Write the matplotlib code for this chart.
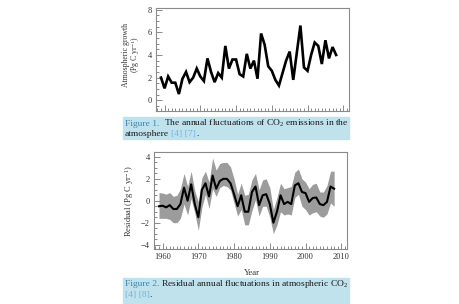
import matplotlib
matplotlib.use("Agg")
import matplotlib.pyplot as plt
from matplotlib.ticker import MultipleLocator, NullFormatter
from matplotlib.patches import Rectangle

plt.rcParams['font.family'] = ['Liberation Serif', 'DejaVu Serif']
plt.rcParams['mathtext.fontset'] = 'custom'
plt.rcParams['mathtext.rm'] = 'Liberation Serif'
plt.rcParams['mathtext.it'] = 'Liberation Serif:italic'

years = list(range(1959, 2009))

# Figure 1: atmospheric growth (Pg C / yr)
growth = [2.0, 1.05, 2.1, 1.55, 1.55, 0.55, 1.9, 2.5, 1.6, 2.0,
          2.8, 2.1, 1.7, 3.7, 2.5, 1.6, 2.4, 2.0, 4.8, 2.8,
          3.6, 3.6, 2.3, 2.1, 4.1, 2.8, 3.5, 1.9, 5.9, 4.9,
          3.0, 2.6, 1.8, 1.3, 2.4, 3.5, 4.3, 1.8, 4.2, 6.6,
          2.9, 2.6, 4.0, 5.1, 4.8, 3.2, 5.3, 3.7, 4.7, 4.0]

# Figure 2: residual with uncertainty band
residual = [-0.5, -0.45, -0.6, -0.4, -0.75, -0.75, -0.3, 1.2, 0.0, 1.5,
            -0.3, -1.5, 1.0, 1.6, 0.4, 2.3, 1.1, 1.8, 2.0, 2.0,
            1.6, 0.6, -0.5, 0.5, -1.0, -1.0, 0.8, 1.3, -0.4, 0.5,
            0.6, -0.3, -2.0, -1.0, 0.5, -0.3, -0.1, -0.3, 1.4, 1.6,
            0.8, 0.7, -0.1, 0.25, 0.3, -0.3, -0.4, -0.1, 1.3, 1.1]
res_upper = [0.75, 0.7, 0.6, 0.75, 0.4, 0.5, 1.1, 2.5, 1.3, 2.7,
             0.9, -0.1, 2.1, 2.7, 1.7, 3.9, 2.8, 3.4, 3.5, 3.5,
             3.1, 2.0, 0.6, 1.6, 0.5, 0.6, 1.9, 2.5, 1.0, 1.9,
             2.0, 1.2, -0.8, 0.3, 1.6, 1.1, 1.2, 1.3, 2.6, 2.9,
             2.0, 1.7, 1.1, 1.5, 1.6, 0.8, 0.8, 1.4, 2.7, 2.7]
res_lower = [-1.6, -1.6, -1.6, -1.7, -2.0, -2.0, -1.6, -0.3, -1.3, 0.2,
             -1.1, -2.7, -0.6, 0.6, -0.7, 1.1, 0.4, 1.2, 1.4, 1.3,
             1.0, -0.2, -1.4, -0.8, -2.2, -2.2, -0.9, 0.1, -1.4, -0.5,
             -0.5, -1.5, -3.0, -2.2, -1.0, -1.3, -1.2, -1.3, 0.3, 0.6,
             -0.5, -0.8, -1.3, -1.1, -1.0, -1.4, -1.5, -1.2, -0.2, -0.5]

cap1 = ['Figure 1.', 'The annual fluctuations of CO$_2$ emissions in the', 'atmosphere', '[4] [7]', '.']
cap2 = ['Figure 2.', 'Residual annual fluctuations in atmospheric CO$_2$', '[4] [8]', '.']

W, H = 459, 304
fig = plt.figure(figsize=(W / 100, H / 100), dpi=100)
fig.patch.set_facecolor('white')
renderer = fig.canvas.get_renderer()


def fx(px):
    return px / W


def fy(py):
    return 1 - py / H


def width_px(txt):
    return txt.get_window_extent(renderer=renderer).width


def style_axes(ax):
    for s in ax.spines.values():
        s.set_color('#8a8a8a')
        s.set_linewidth(0.8)
    ax.set_xlim(1957.6, 2011.6)
    ax.xaxis.set_major_locator(MultipleLocator(10))
    ax.xaxis.set_minor_locator(MultipleLocator(1))
    ax.yaxis.set_major_locator(MultipleLocator(2))
    ax.yaxis.set_minor_locator(MultipleLocator(0.5))
    ax.tick_params(which='both', direction='in', top=False, right=False,
                   color='#777777', width=0.6, labelsize=6, labelcolor='#333333', pad=3)
    ax.tick_params(which='major', length=4)
    ax.tick_params(which='minor', length=2)


# top chart
ax1 = fig.add_axes([fx(156), fy(111), fx(349) - fx(156), fy(8) - fy(111)])
ax1.plot(years, growth, color='black', lw=1.9, solid_joinstyle='miter')
ax1.set_ylim(-0.95, 8.15)
style_axes(ax1)
ax1.xaxis.set_major_formatter(NullFormatter())
fig.text(fx(126.5), fy(55), 'Atmospheric growth', rotation=90, ha='center', va='center',
         fontsize=5.6, color='#333333')
fig.text(fx(135.5), fy(55), '(Pg C yr$^{-1}$)', rotation=90, ha='center', va='center',
         fontsize=5.6, color='#333333')

# bottom chart
ax2 = fig.add_axes([fx(154), fy(249), fx(347) - fx(154), fy(152) - fy(249)])
ax2.fill_between(years, res_lower, res_upper, color='#9c9c9c', lw=0)
ax2.plot(years, residual, color='black', lw=1.5)
ax2.set_ylim(-4.4, 4.45)
style_axes(ax2)
fig.text(fx(129), fy(201), 'Residual (Pg C yr$^{-1}$)', rotation=90, ha='center', va='center',
         fontsize=6.1, color='#333333')
fig.text(fx(252), fy(273), 'Year', ha='center', va='center', fontsize=6.3, color='#333333')

# captions
box_col = '#bfe2ec'
fig_col = '#3a86b4'
ref_col = '#72b4dc'
txt_col = '#1a1a1a'
left, right = 125, 348

# caption font size: line 1 of caption 1 (with some word spacing) fills the box width
probe = fig.text(0, 0, cap1[0] + ' ' + cap1[1], fontsize=10)
cap_fs = 0.985 * 10 * (right - left) / width_px(probe)
probe.remove()
sp = cap_fs * 0.25 * 100 / 72


def justified(y, a, b, col_a):
    fig.text(fx(left), fy(y), a, color=col_a, fontsize=cap_fs, va='center', ha='left')
    fig.text(fx(right), fy(y), b, color=txt_col, fontsize=cap_fs, va='center', ha='right')


def run(y, pieces):
    # pieces: (text, colour, gap after in px)
    x = left
    for s, col, gap in pieces:
        t = fig.text(fx(x), fy(y), s, color=col, fontsize=cap_fs, va='center', ha='left')
        x += width_px(t) + gap


fig.patches.append(Rectangle((fx(123), fy(139.5)), fx(349) - fx(123), fy(117) - fy(139.5),
                             transform=fig.transFigure, color=box_col, zorder=0))
justified(123.8, cap1[0], cap1[1], fig_col)
run(134.3, [(cap1[2], txt_col, sp), (cap1[3], ref_col, 0), (cap1[4], txt_col, 0)])

fig.patches.append(Rectangle((fx(123), fy(302.5)), fx(349) - fx(123), fy(278) - fy(302.5),
                             transform=fig.transFigure, color=box_col, zorder=0))
justified(284.2, cap2[0], cap2[1], fig_col)
run(294.7, [(cap2[2], ref_col, 0), (cap2[3], txt_col, 0)])

fig.savefig('out.png', dpi=100, facecolor='white')
